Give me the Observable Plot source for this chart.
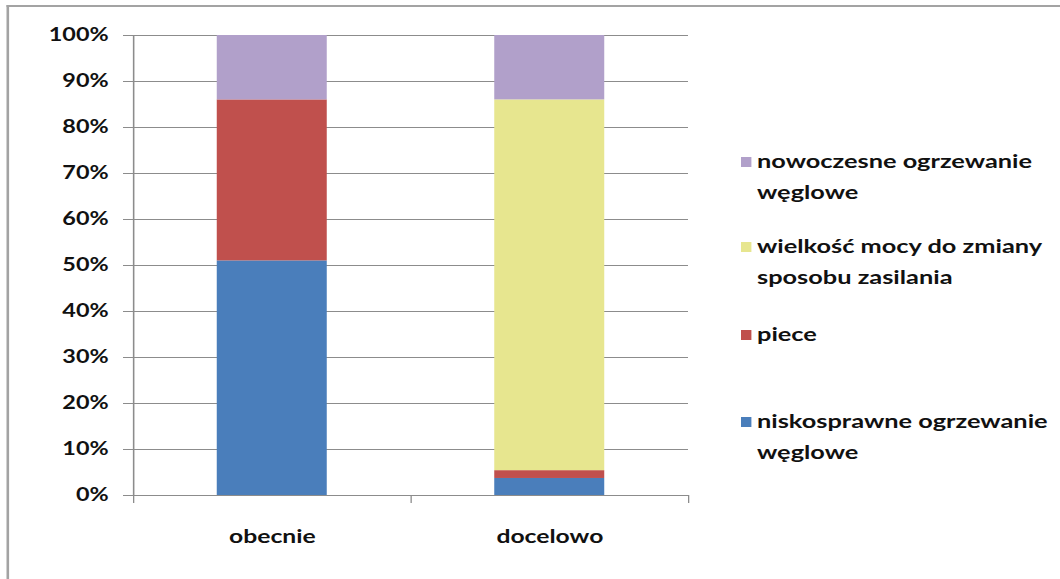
<!DOCTYPE html>
<html>
<head>
<meta charset="utf-8">
<script src="https://cdn.jsdelivr.net/npm/d3@7"></script>
<script src="https://cdn.jsdelivr.net/npm/@observablehq/plot@0.6"></script>
<style>
  html, body { margin: 0; padding: 0; background: #fff; overflow: hidden; }
  #wrap { position: absolute; left: 0; top: 0; height: 579px; transform-origin: 0 0; }
  #frame { position: absolute; top: 5px; height: 700px; border-left: 2px solid #a3a3a3; border-top: 2px solid #a3a3a3; }
  #chart { position: absolute; left: 0; top: 0; }
  .legend { position: absolute; font-family: Lato, "Open Sans", sans-serif; font-weight: bold; font-size: 19.5px; color: #111; line-height: 31px; }
  .legend .sw { position: absolute; height: 10px; }
  .legend .tx { position: absolute; white-space: nowrap; }
</style>
</head>
<body>
<div id="wrap"><div id="frame"></div><div id="chart"></div></div>
<script>
// ---- data ----
const categories = ["obecnie", "docelowo"];
const seriesNames = [
  "niskosprawne ogrzewanie węglowe",
  "piece",
  "wielkość mocy do zmiany sposobu zasilania",
  "nowoczesne ogrzewanie węglowe"
];
const legendLines = [
  ["nowoczesne ogrzewanie", "węglowe"],
  ["wielkość mocy do zmiany", "sposobu zasilania"],
  ["piece"],
  ["niskosprawne ogrzewanie", "węglowe"]
];
const legendOrder = [3, 2, 1, 0];
const obecnieValues = [51, 35, 0, 14];
const doceloweValues = [3.7, 1.7, 80.6, 14];
const yTicks = [0, 10, 20, 30, 40, 50, 60, 70, 80, 90, 100];
const colors = ["#4A7EBB", "#C0504D", "#E7E68F", "#B1A0CA"];

// ---- layout (page is stretched horizontally like the reference) ----
const sx = 1.3;
const W = 1060 / sx;
const axisLeft = 133 / sx, axisRight = 688 / sx;
const barW = 110 / sx;
const bandW = (axisRight - axisLeft) / categories.length;
const inset = (bandW - barW) / 2;

const wrap = document.getElementById("wrap");
wrap.style.width = W + "px";
wrap.style.transform = `scaleX(${sx})`;
const frame = document.getElementById("frame");
frame.style.left = (7 / sx) + "px";
frame.style.width = (W + 50) + "px";

const valuesByCat = [obecnieValues, doceloweValues];
const data = categories.flatMap((c, i) =>
  seriesNames.map((s, j) => ({cat: c, idx: i, series: s, value: valuesByCat[i][j]}))
);

const font = "Lato, 'Open Sans', sans-serif";
const chart = Plot.plot({
  width: W,
  height: 579,
  marginLeft: axisLeft,
  marginRight: W - axisRight,
  marginTop: 35,
  marginBottom: 84,
  style: {fontFamily: font, background: "transparent", color: "#111"},
  x: {domain: [0, categories.length], axis: null, label: null},
  y: {domain: [0, 100], axis: null, label: null},
  color: {domain: seriesNames, range: colors},
  marks: [
    Plot.ruleY(yTicks.filter(t => t > 0), {stroke: "#8c8c8c", strokeWidth: 1.2}),
    Plot.rectY(data, Plot.stackY({
      x1: "idx", x2: d => d.idx + 1, y: "value", fill: "series",
      order: seriesNames, insetLeft: inset, insetRight: inset
    })),
    Plot.ruleX([0], {stroke: "#8c8c8c", strokeWidth: 1.2}),
    Plot.ruleY([0], {stroke: "#8c8c8c", strokeWidth: 1.2}),
    Plot.axisY({ticks: yTicks, tickFormat: d => d + "%", tickSize: 10 / sx, tickPadding: 15 / sx,
      label: null, fontSize: 18, fontWeight: "bold", stroke: "#8c8c8c", fill: "#111"}),
    Plot.axisX({ticks: d3.range(categories.length + 1), tickSize: 8, tickFormat: () => "",
      label: null, stroke: "#8c8c8c"}),
    Plot.axisX({ticks: categories.map((c, i) => i + 0.5), tickSize: 0, tickPadding: 34,
      label: null, tickFormat: d => categories[Math.floor(d)], fontSize: 19, fontWeight: "bold", fill: "#111"})
  ]
});
document.getElementById("chart").appendChild(chart);

// ---- legend (HTML, beside the plot) ----
const legendTops = [145, 230, 318, 405];
legendOrder.forEach((si, k) => {
  const item = document.createElement("div");
  item.className = "legend";
  item.style.left = (741 / sx) + "px";
  item.style.top = legendTops[k] + "px";
  const sw = document.createElement("div");
  sw.className = "sw";
  sw.style.background = colors[si];
  sw.style.width = (10 / sx) + "px";
  sw.style.left = "0px";
  sw.style.top = "12px";
  const tx = document.createElement("div");
  tx.className = "tx";
  tx.style.left = (16 / sx) + "px";
  tx.style.top = "0px";
  tx.innerHTML = legendLines[k].join("<br>");
  item.appendChild(sw);
  item.appendChild(tx);
  wrap.appendChild(item);
});
</script>
</body>
</html>
